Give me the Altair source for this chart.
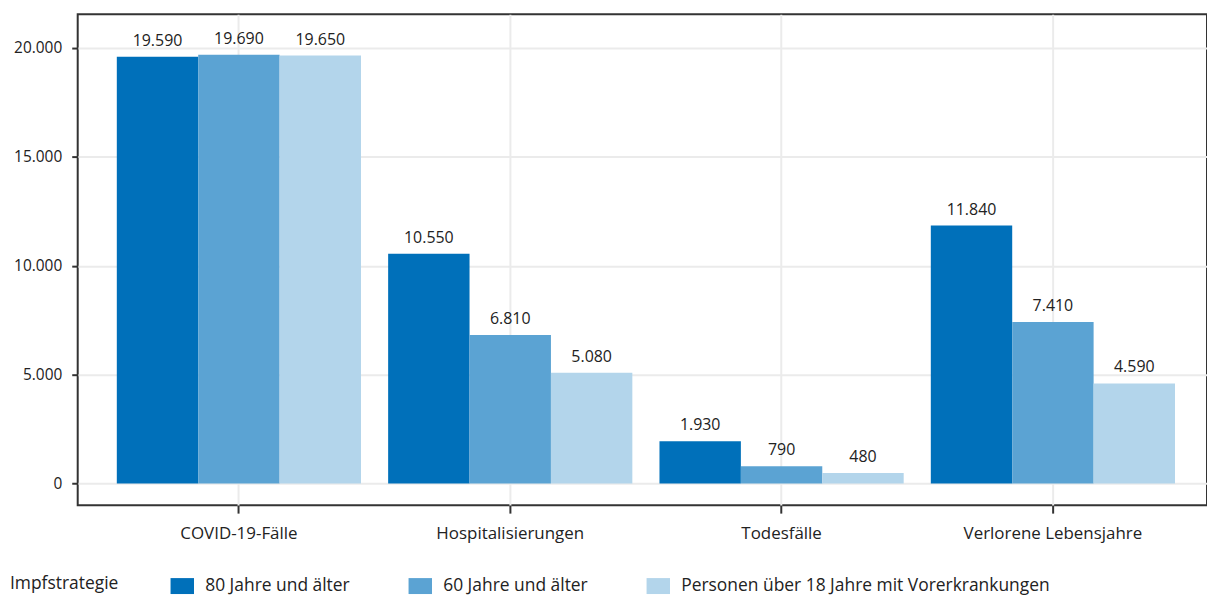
import altair as alt
import pandas as pd

categories = ["COVID-19-Fälle", "Hospitalisierungen", "Todesfälle", "Verlorene Lebensjahre"]
series = ["80 Jahre und älter", "60 Jahre und älter", "Personen über 18 Jahre mit Vorerkrankungen"]
values_80 = [19590, 10550, 1930, 11840]
values_60 = [19690, 6810, 790, 7410]
values_18 = [19650, 5080, 480, 4590]
colors = ["#0070ba", "#5ba3d3", "#b3d5eb"]
y_ticks = [0, 5000, 10000, 15000, 20000]

rows = []
for s, vals in zip(series, [values_80, values_60, values_18]):
    for c, v in zip(categories, vals):
        rows.append({"Kategorie": c, "Impfstrategie": s, "Wert": v,
                     "Label": f"{v:,}".replace(",", ".")})
df = pd.DataFrame(rows)

FONT = "Open Sans"

x = alt.X("Kategorie:N", sort=categories, title=None,
          scale=alt.Scale(paddingInner=0.1, paddingOuter=0.131, align=0.55),
          axis=alt.Axis(labelAngle=0, labelFontSize=17, labelColor="#222", labelPadding=12,
                        tickSize=8, tickWidth=2, tickColor="#333",
                        domain=False, grid=True, gridColor="#ebebeb", gridWidth=2))
xo = alt.XOffset("Impfstrategie:N", sort=series, scale=alt.Scale(paddingInner=0, paddingOuter=0))
y = alt.Y("Wert:Q", title=None,
          scale=alt.Scale(domain=[-1000, 21550], nice=False, zero=False),
          axis=alt.Axis(values=y_ticks, labelExpr="replace(format(datum.value, ','), ',', '.')",
                        labelFontSize=15.5, labelColor="#222", labelPadding=10,
                        tickSize=6, tickWidth=2, tickColor="#333",
                        domain=False, grid=True, gridColor="#ebebeb", gridWidth=2))

color = alt.Color("Impfstrategie:N", sort=series,
                  scale=alt.Scale(domain=series, range=colors),
                  legend=alt.Legend(orient="none", legendX=-68, legendY=562, direction="horizontal",
                                    titleOrient="left", titleFontSize=17.5, titleFontWeight="normal",
                                    titleColor="#222", titlePadding=52, labelFontSize=17.5,
                                    labelColor="#222", symbolType="M-1,-0.68H1V0.68H-1Z",
                                    symbolSize=555, symbolStrokeWidth=0, symbolOpacity=1,
                                    columnPadding=58, labelOffset=11, labelLimit=500))

bars = alt.Chart(df).mark_bar(stroke=None).encode(x=x, xOffset=xo, y=y, color=color)
text = alt.Chart(df).mark_text(baseline="bottom", dy=-8, fontSize=16, color="#222", font=FONT).encode(
    x=x, xOffset=xo, y=y, text="Label:N")

chart = (bars + text).properties(width=1134, height=493, padding={"left": 2, "top": 5, "right": 0, "bottom": 0}).configure(
    font=FONT
).configure_view(stroke="#333", strokeWidth=2)

chart.save("out.html", embed_options={"renderer": "svg", "actions": False})
